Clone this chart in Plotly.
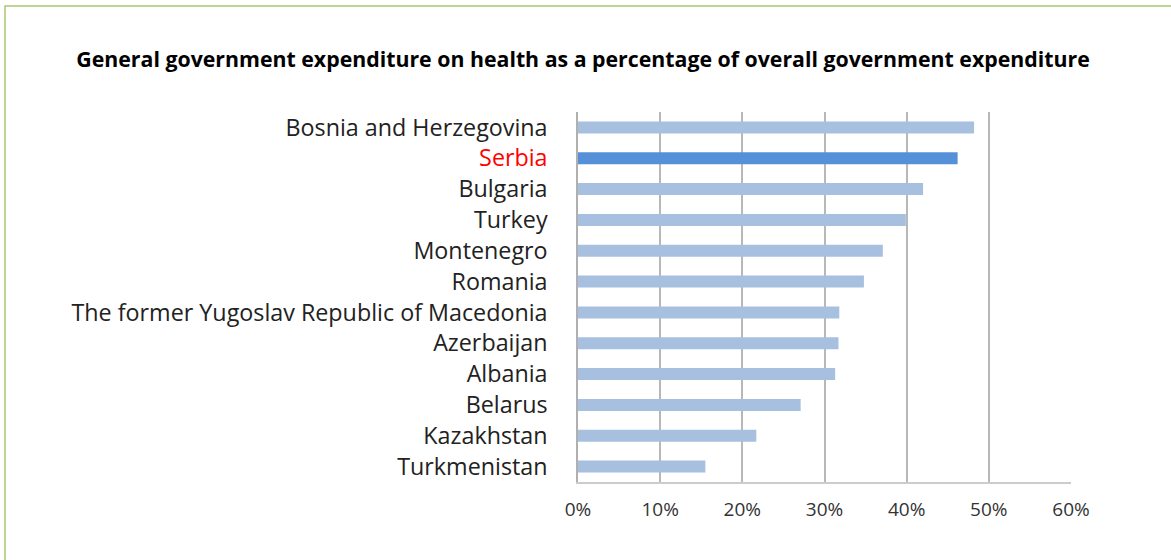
import plotly.graph_objects as go

countries = ["Bosnia and Herzegovina", "Serbia", "Bulgaria", "Turkey", "Montenegro", "Romania",
             "The former Yugoslav Republic of Macedonia", "Azerbaijan", "Albania", "Belarus",
             "Kazakhstan", "Turkmenistan"]
values = [48.2, 46.2, 42.0, 39.9, 37.1, 34.8, 31.8, 31.7, 31.3, 27.1, 21.7, 15.5]
highlight = "Serbia"
x_ticks = [0, 10, 20, 30, 40, 50, 60]
x_tick_labels = ["0%", "10%", "20%", "30%", "40%", "50%", "60%"]

colors = ["#5590d8" if c == highlight else "#a8c0e0" for c in countries]
ticktext = [f"<span style='color:#ff0000'>{c}</span>" if c == highlight else c for c in countries]

fig = go.Figure(go.Bar(
    y=countries, x=values, orientation="h",
    marker=dict(color=colors, line=dict(width=0)),
    width=0.39,
))

W, H = 1171, 560
L, T = 578, 112
R = 1171 - 1071
B = 560 - 482
pw, ph = W - L - R, H - T - B

def px(p):
    return (p - L) / pw

def py(p):
    return (H - B - p) / ph

fig.update_layout(
    width=W, height=H,
    margin=dict(l=L, r=R, t=T, b=B),
    paper_bgcolor="white", plot_bgcolor="white",
    showlegend=False,
    font=dict(family="Open Sans, Noto Sans, sans-serif", color="#222222"),
    title=dict(
        text="<b>General government expenditure on health as a percentage of overall government expenditure</b>",
        x=583 / W, xref="container", xanchor="center",
        y=1 - 60 / H, yref="container", yanchor="middle",
        font=dict(size=21.3, color="#000000", family="Open Sans, sans-serif"),
    ),
    xaxis=dict(
        range=[0, 60], tickvals=x_ticks, ticktext=x_tick_labels,
        showgrid=True, gridcolor="#b8b8b8", gridwidth=1.5,
        zeroline=False,
        showline=True, linecolor="#cccccc", linewidth=1.5,
        tickfont=dict(size=19, color="#333333"),
        ticks="",
        ticklabelstandoff=9,
        fixedrange=True,
    ),
    yaxis=dict(
        categoryorder="array", categoryarray=countries[::-1],
        tickvals=countries, ticktext=ticktext,
        tickfont=dict(size=23.3, color="#222222"),
        ticks="", ticklen=0,
        showgrid=False, zeroline=False,
        showline=True, linecolor="#b0b0b0", linewidth=1.5,
        automargin=False,
        ticklabelstandoff=24,
        fixedrange=True,
    ),
    shapes=[dict(type="rect", xref="paper", yref="paper",
                 x0=px(5), x1=px(1240), y0=py(6), y1=py(640),
                 line=dict(color="#a9c872", width=1.5), fillcolor="rgba(0,0,0,0)")],
)

fig.write_html("out.html",
               config={"displayModeBar": False},
               post_script="document.body.style.margin='0px';document.body.style.overflow='hidden';")
